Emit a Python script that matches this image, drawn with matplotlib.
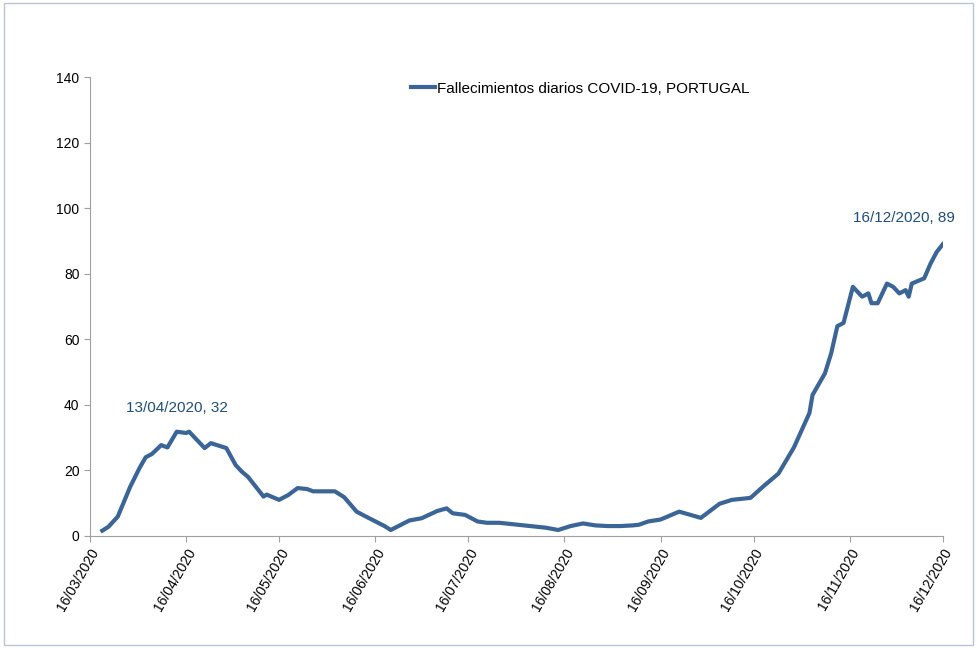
import datetime as dt
import matplotlib
matplotlib.use("Agg")
import matplotlib.pyplot as plt
import matplotlib.dates as mdates

plt.rcParams['font.family'] = ['Liberation Sans', 'DejaVu Sans']

start = dt.date(2020, 3, 16)
# days since 16/03/2020 and daily deaths (7-day average)
days = [4, 6, 9, 13, 16, 18, 20, 23, 25, 28, 31, 32, 37, 39, 44, 47, 49, 51, 56, 57,
        61, 64, 67, 70, 72, 79, 82, 86, 89, 95, 97, 103, 107, 112, 115, 117, 121, 125, 128,
        132, 137, 142, 147, 151, 155, 159, 163, 167, 171, 175, 177,
        180, 184, 190, 197, 203, 207, 213, 217, 222, 227, 232, 233, 237, 239, 241, 243,
        246, 249, 251, 252, 254, 257, 259, 261, 263, 264, 265, 269, 271, 273, 275]
deaths = [1.6, 2.8, 5.9, 15, 20.7, 24, 25, 27.7, 27, 31.8, 31.4, 31.8, 26.8, 28.3, 26.8, 21.6, 19.6, 18, 12, 12.6,
          11, 12.5, 14.6, 14.3, 13.6, 13.6, 11.8, 7.4, 5.9, 3, 1.8, 4.7, 5.4, 7.6, 8.4, 6.9, 6.4, 4.4, 4,
          4, 3.5, 3, 2.5, 1.8, 3, 3.8, 3.2, 3, 3, 3.2, 3.4,
          4.4, 5, 7.4, 5.5, 9.8, 11, 11.6, 15, 19, 27, 37.5, 43, 49.6, 55.7, 64, 65,
          76, 73, 74, 71, 71, 77, 76, 74, 75, 73, 77, 78.6, 83, 86.6, 89]
dates = [start + dt.timedelta(days=d) for d in days]

tick_dates = [dt.date(2020, m, 16) for m in range(3, 13)]

fig = plt.figure(figsize=(9.77, 6.48), dpi=100)
fig.patches.append(plt.Rectangle((0.004, 0.004), 0.992, 0.992, transform=fig.transFigure,
                                 fill=False, edgecolor='#b8c4d8', linewidth=1))
ax = fig.add_axes([0.092, 0.173, 0.873, 0.708])

color = '#3b6596'
ax.plot(dates, deaths, color=color, linewidth=3, label='Fallecimientos diarios COVID-19, PORTUGAL')

ax.set_xlim(tick_dates[0], tick_dates[-1])
ax.set_ylim(0, 140)
ax.set_yticks(range(0, 141, 20))
ax.set_xticks(tick_dates)
ax.xaxis.set_major_formatter(mdates.DateFormatter('%d/%m/%Y'))
plt.setp(ax.get_xticklabels(), rotation=60, ha='right', rotation_mode='anchor')
ax.tick_params(labelsize=10, color='#a0a0a0', direction='out', length=4)

for s in ['top', 'right']:
    ax.spines[s].set_visible(False)
for s in ['left', 'bottom']:
    ax.spines[s].set_color('#a0a0a0')

ax.annotate('13/04/2020, 32', (start + dt.timedelta(days=28), 31.8), xytext=(0, 12),
            textcoords='offset points', ha='center', va='bottom', color='#1f4e79', fontsize=11)
ax.annotate('16/12/2020, 89', (start + dt.timedelta(days=275), 89), xytext=(-28, 14),
            textcoords='offset points', ha='center', va='bottom', color='#1f4e79', fontsize=11)

ax.legend(loc='upper left', bbox_to_anchor=(0.36, 1.02), frameon=False, fontsize=11,
          handlelength=1.6, handletextpad=0.1)

fig.savefig('out.png')
